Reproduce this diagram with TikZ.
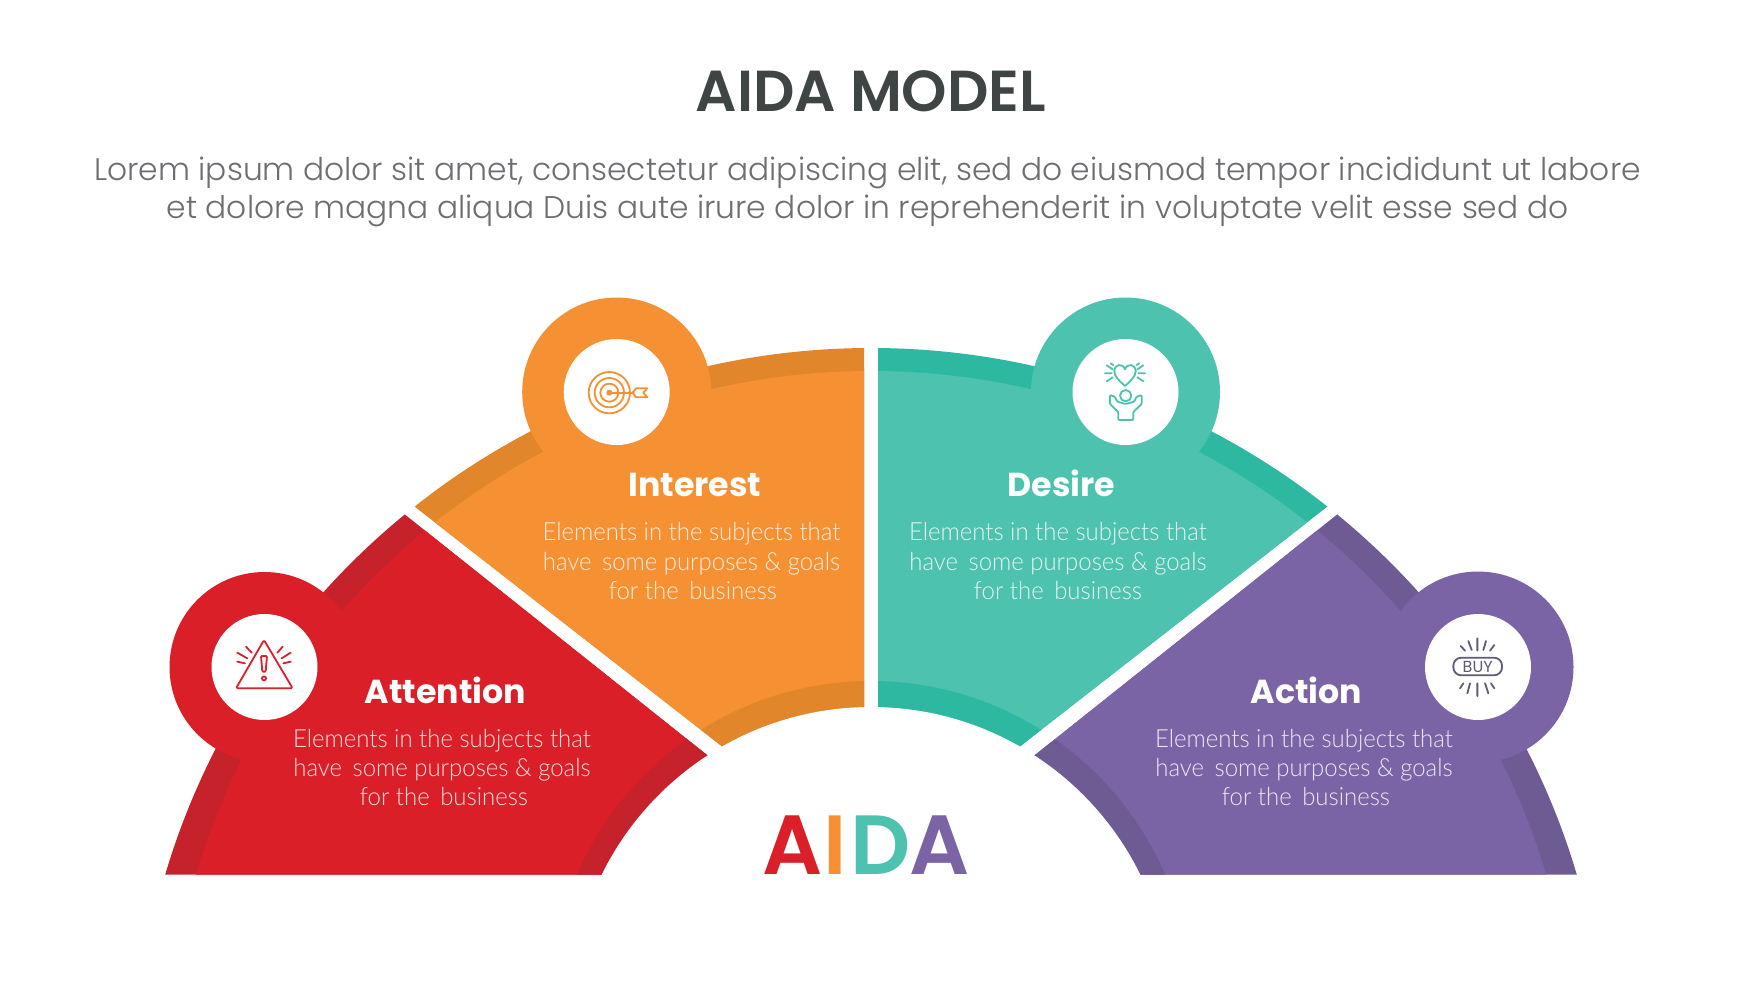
\documentclass[tikz,border=0pt]{standalone}
\usepackage{fontspec}
\setmainfont{Poppins}
\newfontfamily\titlef{Poppins SemiBold}
\newfontfamily\subf{Poppins Light}
\newfontfamily\headf{Poppins}[BoldFont={Poppins Bold}]
\newfontfamily\bodyf{Lato Light}[FakeStretch=0.957]
\definecolor{cred}{HTML}{DA1F28}\definecolor{credd}{HTML}{C5222B}
\definecolor{corg}{HTML}{F59033}\definecolor{corgd}{HTML}{E2862B}
\definecolor{cteal}{HTML}{4DC2AE}\definecolor{ctealal}{HTML}{2DB9A1}
\definecolor{cpur}{HTML}{7B64A5}\definecolor{cpurd}{HTML}{6F5B94}
\definecolor{ctitle}{HTML}{3F4444}\definecolor{csub}{HTML}{6D6E71}
\definecolor{cbuy}{HTML}{5E5A78}
\tikzset{
  titletext/.style={inner sep=0pt,text=ctitle,font=\titlef\fontsize{57.8}{60}\selectfont},
  subtext/.style={inner sep=0pt,text=csub,font=\subf\fontsize{31.3}{38}\selectfont},
  headtext/.style={inner sep=0pt,anchor=base,text=white,font=\headf\bfseries\fontsize{33.2}{36}\selectfont},
  bodytext/.style={inner sep=0pt,align=center,text=white,text opacity=.85,font=\bodyf\fontsize{25}{29.2}\selectfont},
  aidaletter/.style={inner sep=0pt,anchor=base,font=\titlef\fontsize{84}{90}\selectfont},
  iconline/.style={line width=1.8pt,line cap=round,line join=round},
}
\newcommand{\bandfill}[2]{%
  \fill[#1] (871,1084) circle (736pt);
  \fill[#2] (871,1075) circle (704pt);
  \fill[#1] (871,1001) circle (320pt);
}
\newcommand{\dsp}{\hspace{.42em}}
\begin{document}
\begin{tikzpicture}[x=1pt,y=-1pt]
\path[use as bounding box,fill=white] (0,0) rectangle (1742,980);
% title
\node[titletext] (title) at (871,91) {AIDA MODEL};
\node[subtext] (sub1) at (867.5,172.5) {Lorem ipsum dolor sit amet, consectetur adipiscing elit, sed do eiusmod tempor incididunt ut labore};
\node[subtext] (sub2) at (867.5,210.5) {et dolore magna aliqua Duis aute irure dolor in reprehenderit in voluptate velit esse sed do};
% sectors
\begin{scope}
\clip (300,431) -- (857,874.5) -- (100,874.5) -- (100,431) -- cycle;
\bandfill{credd}{cred}
\end{scope}
\begin{scope}
\clip (864,250) -- (864,857) -- (310,425) -- (310,250) -- cycle;
\bandfill{corgd}{corg}
\end{scope}
\begin{scope}
\clip (878,250) -- (878,857) -- (1432,425) -- (1432,250) -- cycle;
\bandfill{ctealal}{cteal}
\end{scope}
\begin{scope}
\clip (1442,431) -- (885,874.5) -- (1642,874.5) -- (1642,431) -- cycle;
\bandfill{cpurd}{cpur}
\end{scope}
\fill[white] (871,1007) circle (300pt);
% badge circles
\fill[cred] (264.5,667) circle (95pt);
\fill[corg] (616.7,392) circle (94.5pt);
\fill[cteal] (1125.5,392) circle (94.5pt);
\fill[cpur] (1478,667) circle (95.5pt);
\fill[white] (264.5,667) circle (53pt);
\fill[white] (616.7,392) circle (53pt);
\fill[white] (1125.5,392) circle (53pt);
\fill[white] (1478,667) circle (53pt);
% warning icon
\begin{scope}[shift={(200,620)},scale=1/3,iconline,draw=cred]
\draw[rounded corners=1.5pt] (192,60) -- (108,205) -- (278,205) -- cycle;
\draw[rounded corners=1pt] (183,108) -- (201,108) -- (197,155) -- (187,155) -- cycle;
\draw (192,175) circle (6pt);
\draw (138,80) -- (155,98) (112,98) -- (142,115) (112,125) -- (135,130);
\draw (248,80) -- (232,98) (272,98) -- (245,115) (272,125) -- (250,130);
\end{scope}
% target icon
\begin{scope}[shift={(560,340)},scale=1/3,iconline,draw=corg]
\draw (148,158) circle (62pt) (148,158) circle (44pt) (148,158) circle (27pt);
\fill[corg] (148,158) circle (9pt);
\draw (148,158) -- (222,158);
\draw (218,158) -- (228,145) -- (262,145) -- (250,158) -- (262,172) -- (228,172) -- cycle;
\end{scope}
% desire icon
\begin{scope}[shift={(1060,340)},scale=1/3,iconline,draw=cteal]
\draw (195,138) .. controls (175,120) and (163,108) .. (163,94) .. controls (163,72) and (188,68) .. (195,88) .. controls (202,68) and (227,72) .. (227,94) .. controls (227,108) and (215,120) .. (195,138) -- cycle;
\draw (197,167) circle (17pt);
\draw[rounded corners=1pt] (150,165) -- (150,192) -- (175,216) -- (175,240) -- (220,240) -- (220,216) -- (245,192) -- (245,165) -- (230,170) -- (222,185) -- (197,192) -- (172,185) -- (164,170) -- cycle;
\draw (140,76) -- (158,88) (135,100) -- (155,100) (140,124) -- (158,112);
\draw (250,76) -- (232,88) (255,100) -- (235,100) (250,124) -- (232,112);
\draw (152,70) -- (160,75) (238,70) -- (230,75);
\end{scope}
% buy icon
\begin{scope}[shift={(1410,620)},scale=1/3,iconline,draw=cbuy]
\draw[rounded corners=8pt] (130,113) rectangle (276,166);
\draw (202,55) -- (202,92) (175,63) -- (185,90) (228,63) -- (220,90) (152,78) -- (165,92) (253,75) -- (240,92);
\draw (202,190) -- (202,228) (180,190) -- (172,220) (225,190) -- (235,220) (160,190) -- (150,205) (243,190) -- (253,205);
\node[inner sep=0pt,text=cbuy,font=\headf\fontsize{16}{16}\selectfont] (buy) at (203,140) {BUY};
\end{scope}
% labels
\node[headtext] (attn) at (445.5,703) {Attention};
\node[headtext] (intr) at (695,496.5) {Interest};
\node[headtext] (desr) at (1061.5,496.5) {Desire};
\node[headtext] (actn) at (1306.5,703) {Action};
\node[bodytext] (attnb) at (442,767.5) {Elements in the subjects that\\have\dsp some purposes \& goals\\\hspace*{4pt}for the\dsp business};
\node[bodytext] (intrb) at (691.5,561) {Elements in the subjects that\\have\dsp some purposes \& goals\\\hspace*{3pt}for the\dsp business};
\node[bodytext] (desrb) at (1058,561) {Elements in the subjects that\\have\dsp some purposes \& goals\\for the\dsp business};
\node[bodytext] (actnb) at (1304,767.5) {Elements in the subjects that\\have\dsp some purposes \& goals\\\hspace*{4pt}for the\dsp business};
% AIDA word
\node[aidaletter,text=cred] (la1) at (793,874) {A};
\node[aidaletter,text=corg] (li) at (835.5,874) {I};
\node[aidaletter,text=cteal] (ld) at (881,874) {D};
\node[aidaletter,text=cpur] (la2) at (940,874) {A};
\end{tikzpicture}
\end{document}
